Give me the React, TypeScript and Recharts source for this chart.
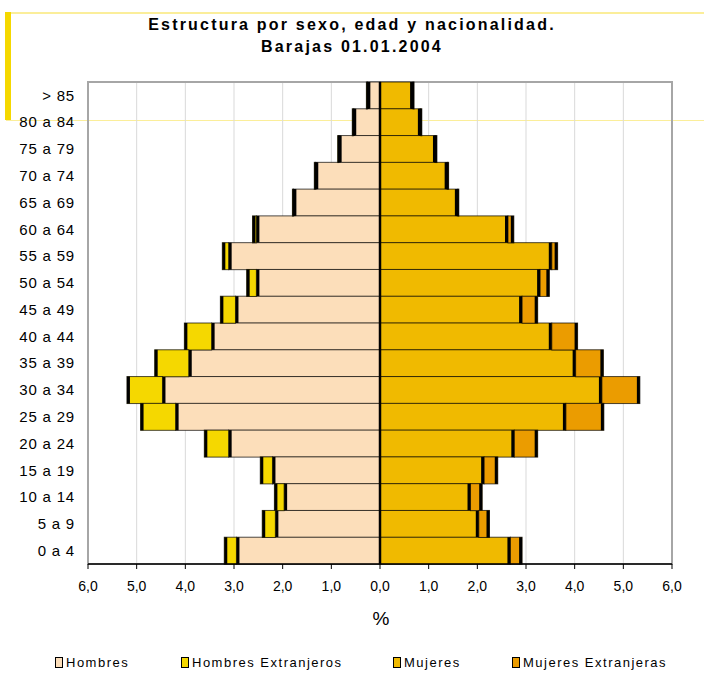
import React from 'react';
import { BarChart, Bar, XAxis, YAxis, CartesianGrid, ReferenceLine, ReferenceArea } from 'recharts';

const ages = ['> 85', '80 a 84', '75 a 79', '70 a 74', '65 a 69', '60 a 64', '55 a 59', '50 a 54', '45 a 49', '40 a 44', '35 a 39', '30 a 34', '25 a 29', '20 a 24', '15 a 19', '10 a 14', '5 a 9', '0 a 4'];
const hombres = [0.26, 0.55, 0.85, 1.33, 1.78, 2.54, 3.11, 2.54, 2.97, 3.46, 3.93, 4.47, 4.2, 3.11, 2.21, 1.97, 2.15, 2.95];
const hombresExt = [0.02, 0.02, 0.02, 0.02, 0.02, 0.08, 0.13, 0.2, 0.31, 0.56, 0.7, 0.73, 0.72, 0.5, 0.25, 0.2, 0.27, 0.25];
const mujeres = [0.68, 0.84, 1.15, 1.39, 1.6, 2.63, 3.53, 3.29, 2.92, 3.53, 4.02, 4.56, 3.82, 2.76, 2.14, 1.86, 2.03, 2.68];
const mujeresExt = [0.02, 0.02, 0.02, 0.02, 0.02, 0.12, 0.12, 0.19, 0.32, 0.53, 0.57, 0.78, 0.78, 0.48, 0.28, 0.24, 0.22, 0.24];
const xTicks = [-6, -5, -4, -3, -2, -1, 0, 1, 2, 3, 4, 5, 6];

const series = [
  { key: 'hombres', name: 'Hombres', color: '#FCDEBA', side: 'left' },
  { key: 'hombresExt', name: 'Hombres Extranjeros', color: '#F5D800', side: 'left' },
  { key: 'mujeres', name: 'Mujeres', color: '#F0BA00', side: 'right' },
  { key: 'mujeresExt', name: 'Mujeres Extranjeras', color: '#EB9C00', side: 'right' },
];

const data = ages.map((a, i) => ({
  age: a,
  hombres: -hombres[i],
  hombresExt: -hombresExt[i],
  mujeres: mujeres[i],
  mujeresExt: mujeresExt[i],
}));

const FONT = '"Liberation Sans", Arial, sans-serif';

const makeShape = (color: string, side: string) => (props: any) => {
  const { x, y, width, height } = props;
  if (x == null || y == null) return null;
  const left = Math.min(x, x + width);
  const w = Math.abs(width);
  const edgeX = side === 'left' ? left : left + w - 3;
  return (
    <g>
      <rect x={left} y={y} width={w} height={height} fill={color} stroke="#000" strokeOpacity={0.7} strokeWidth={1} />
      <rect x={edgeX} y={y} width={3} height={height} fill="#000" />
    </g>
  );
};

const fmt = (v: number) => Math.abs(v).toFixed(1).replace('.', ',');

export default function App() {
  return (
    <div style={{ position: 'absolute', left: 0, top: 0, width: 704, height: 673, background: '#fff', fontFamily: FONT }}>
      <div style={{ position: 'absolute', left: 6, top: 12, width: 698, height: 2, background: '#FBEE9A' }} />
      <div style={{ position: 'absolute', left: 6, top: 120, width: 698, height: 1, background: '#FBEE9A' }} />
      <div style={{ position: 'absolute', left: 5, top: 12, width: 6, height: 108, background: '#F5D800' }} />
      <div style={{ position: 'absolute', left: 0, top: 14, width: 704, textAlign: 'center', fontWeight: 'bold', fontSize: 16, letterSpacing: 2.2, lineHeight: '22px', color: '#000', paddingLeft: 0 }}>
        <div>Estructura por sexo, edad y nacionalidad.</div>
        <div>Barajas 01.01.2004</div>
      </div>
      <BarChart
        width={704}
        height={673}
        data={data}
        layout="vertical"
        stackOffset="sign"
        barCategoryGap={0}
        margin={{ top: 82, right: 32, bottom: 79, left: 0 }}
        style={{ position: 'absolute', left: 0, top: 0 }}
      >
        <CartesianGrid horizontal={false} vertical={true} stroke="#D9D9D9" strokeWidth={1} />
        <ReferenceArea x1={-6} x2={6} fill="none" stroke="#A6A6A6" strokeWidth={2} />
        <XAxis
          type="number"
          domain={[-6, 6]}
          ticks={xTicks}
          tickFormatter={fmt}
          axisLine={{ stroke: '#000', strokeWidth: 1.5 }}
          tickLine={{ stroke: '#000' }}
          tickSize={5}
          tickMargin={12}
          height={30}
          tick={{ fontSize: 14, fill: '#000', fontFamily: FONT }}
        />
        <YAxis
          type="category"
          dataKey="age"
          width={88}
          axisLine={false}
          tickLine={false}
          tickSize={0}
          tickMargin={13}
          interval={0}
          tick={{ fontSize: 15, fill: '#000', fontFamily: FONT, letterSpacing: 0.8 }}
        />
        {series.map((s) => (
          <Bar
            key={s.key}
            dataKey={s.key}
            name={s.name}
            stackId="a"
            fill={s.color}
            isAnimationActive={false}
            shape={makeShape(s.color, s.side)}
          />
        ))}
        <ReferenceLine x={0} stroke="#000" strokeWidth={2.5} />
      </BarChart>
      <div style={{ position: 'absolute', left: 371, top: 608, width: 20, textAlign: 'center', fontSize: 19, color: '#000' }}>%</div>
      {series.map((s, i) => {
        const lefts = [55, 181, 393, 512];
        return (
          <div key={s.key} style={{ position: 'absolute', left: lefts[i], top: 655, display: 'flex', alignItems: 'center', fontSize: 13, letterSpacing: 1.5, color: '#000' }}>
            <span style={{ display: 'inline-block', width: 6, height: 9, background: s.color, border: '1px solid #000', marginRight: 3 }} />
            <span>{s.name}</span>
          </div>
        );
      })}
    </div>
  );
}
